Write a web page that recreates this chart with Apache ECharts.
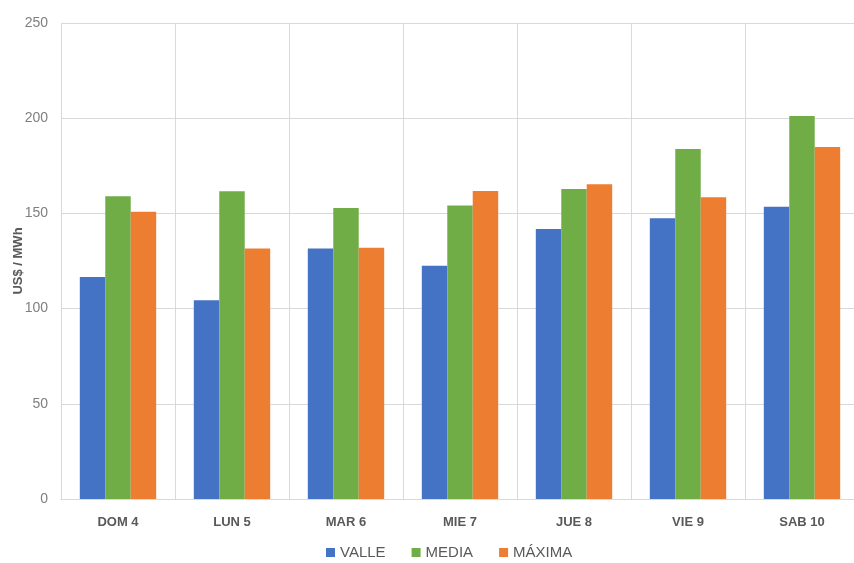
<!DOCTYPE html>
<html>
<head>
<meta charset="utf-8">
<script src="https://cdn.jsdelivr.net/npm/echarts@6/dist/echarts.min.js"></script>
<style>
html,body{margin:0;padding:0;background:#fff;overflow:hidden;}
#chart{width:854px;height:563px;}
</style>
</head>
<body>
<div id="chart"></div>
<script>
var categories = ['DOM 4', 'LUN 5', 'MAR 6', 'MIE 7', 'JUE 8', 'VIE 9', 'SAB 10'];
var valle = [116.6, 104.4, 131.5, 122.5, 141.8, 147.4, 153.5];
var media = [159.0, 161.6, 152.8, 154.1, 162.8, 183.8, 201.2];
var maxima = [150.9, 131.5, 132.0, 161.8, 165.3, 158.5, 184.9];
var seriesNames = ['VALLE', 'MEDIA', 'MÁXIMA'];
var yTicks = {min: 0, max: 250, interval: 50};

var FONT = "'Liberation Sans Narrow', 'Arial Narrow', 'Liberation Sans', sans-serif";
var chart = echarts.init(document.getElementById('chart'));
chart.setOption({
  animation: false,
  color: ['#4472C4', '#70AD47', '#ED7D31'],
  grid: {left: 61, top: 23, width: 798, height: 476, containLabel: false, outerBoundsMode: 'none'},
  legend: {
    data: seriesNames,
    left: 321, top: 540,
    itemWidth: 9, itemHeight: 9, itemGap: 26,
    icon: 'rect',
    textStyle: {fontFamily: FONT, fontSize: 15, color: '#595959'}
  },
  xAxis: {
    type: 'category',
    data: categories,
    axisLine: {show: true, lineStyle: {color: '#d9d9d9', width: 1}},
    axisTick: {show: false},
    splitLine: {show: true, lineStyle: {color: '#d9d9d9', width: 1}},
    axisLabel: {fontFamily: FONT, fontSize: 13, fontWeight: 'bold', color: '#595959', margin: 17}
  },
  yAxis: {
    type: 'value',
    min: yTicks.min, max: yTicks.max, interval: yTicks.interval,
    name: 'US$ / MWh',
    nameLocation: 'middle',
    nameGap: 36,
    nameMoveOverlap: false,
    nameTextStyle: {fontFamily: FONT, fontSize: 13, fontWeight: 'bold', color: '#595959'},
    axisLine: {show: false},
    axisTick: {show: false},
    splitLine: {show: true, lineStyle: {color: '#d9d9d9', width: 1}},
    axisLabel: {fontFamily: FONT, fontSize: 14, color: '#7f7f7f', margin: 13}
  },
  series: [
    {name: seriesNames[0], type: 'bar', data: valle, barGap: '0%', barCategoryGap: '33%'},
    {name: seriesNames[1], type: 'bar', data: media, barGap: '0%', barCategoryGap: '33%'},
    {name: seriesNames[2], type: 'bar', data: maxima, barGap: '0%', barCategoryGap: '33%'}
  ]
});
</script>
</body>
</html>
